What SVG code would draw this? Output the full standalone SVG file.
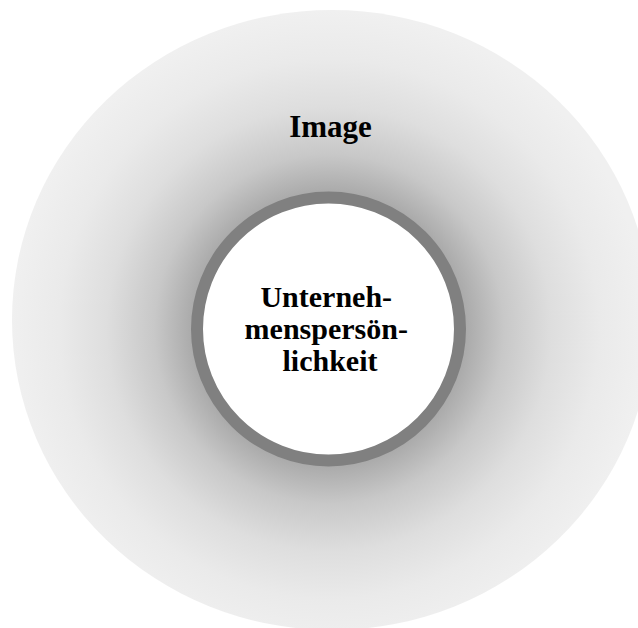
<svg xmlns="http://www.w3.org/2000/svg" width="638" height="628" viewBox="0 0 638 628">
  <defs>
    <!-- shading of the outer ring: darkest next to the core, fading outwards -->
    <radialGradient id="haloShade" gradientUnits="userSpaceOnUse" cx="329" cy="329" r="318">
      <stop offset="0" stop-color="#777777"/>
      <stop offset="0.43" stop-color="#aaaaaa"/>
      <stop offset="0.55" stop-color="#c8c8c8"/>
      <stop offset="0.7" stop-color="#dedede"/>
      <stop offset="0.85" stop-color="#eaeaea"/>
      <stop offset="1" stop-color="#f0f0f0"/>
    </radialGradient>
  </defs>
  <style>
    .label { font-family: "Liberation Serif", "Times New Roman", serif; font-weight: bold; fill: #000; text-anchor: middle; }
    .core { fill: #ffffff; stroke: #808080; stroke-width: 12; }
  </style>
  <rect width="638" height="628" fill="#ffffff"/>

  <g id="image">
    <ellipse cx="332" cy="320" rx="320" ry="310" fill="url(#haloShade)"/>
    <text class="label" x="330.5" y="137" font-size="31">Image</text>
  </g>

  <g id="unternehmenspersoenlichkeit">
    <circle class="core" cx="328.5" cy="329" r="131.5"/>
    <text class="label" font-size="30">
      <tspan x="330" y="306.5">Unterneh-</tspan>
      <tspan x="330" y="339">menspersön-</tspan>
      <tspan x="330" y="371">lichkeit</tspan>
    </text>
  </g>

  <g id="connectors"/>
</svg>
